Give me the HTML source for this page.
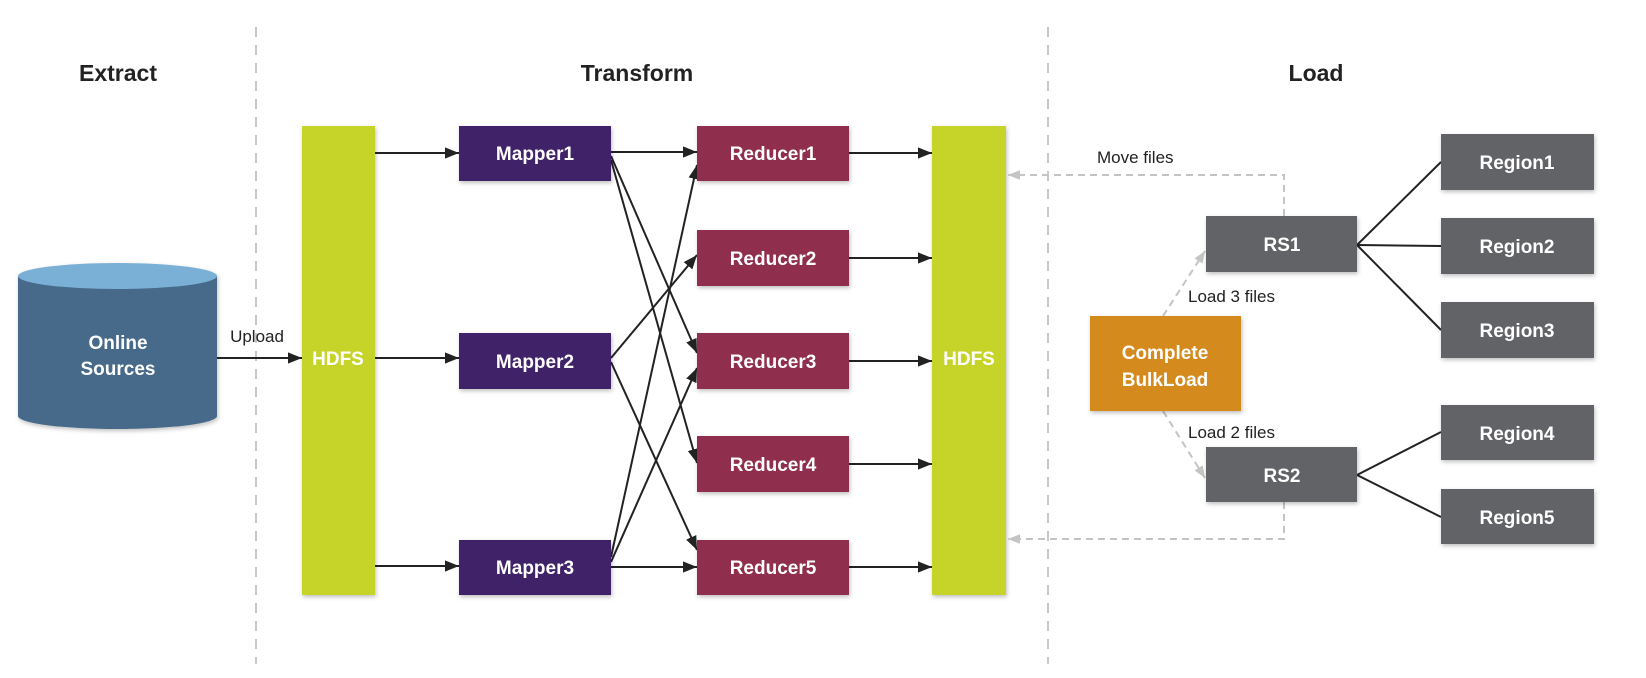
<!DOCTYPE html>
<html><head><meta charset="utf-8"><style>
html,body{margin:0;padding:0;background:#fff;}
svg{display:block;}
text{font-family:"Liberation Sans",sans-serif;font-weight:bold;}
text.n{font-weight:normal;}
</style></head><body>
<svg width="1646" height="678" viewBox="0 0 1646 678" xmlns="http://www.w3.org/2000/svg">
<defs>
<marker id="a" viewBox="0 0 10 10" refX="10" refY="5" markerWidth="14" markerHeight="14" markerUnits="userSpaceOnUse" orient="auto"><path d="M0,1 L10,5 L0,9 z" fill="#222"/></marker>
<marker id="g" viewBox="0 0 10 10" refX="10" refY="5" markerWidth="12" markerHeight="12" markerUnits="userSpaceOnUse" orient="auto"><path d="M0,1 L10,5 L0,9 z" fill="#c4c4c4"/></marker>
<filter id="s" x="-10%" y="-10%" width="130%" height="130%"><feDropShadow dx="1" dy="2" stdDeviation="2" flood-color="#000" flood-opacity="0.25"/></filter>
</defs>
<line x1="256" y1="27" x2="256" y2="664" stroke="#c8c8c8" stroke-width="2" stroke-dasharray="10,8"/>
<line x1="1048" y1="27" x2="1048" y2="664" stroke="#c8c8c8" stroke-width="2" stroke-dasharray="10,8"/>
<g font-size="23" fill="#222" text-anchor="middle">
<text x="118" y="81">Extract</text>
<text x="637" y="81">Transform</text>
<text x="1316" y="81">Load</text>
</g>
<g filter="url(#s)">
<path d="M18,276 L18,416 A99.5,13 0 0 0 217,416 L217,276 z" fill="#466a8a"/>
<ellipse cx="117.5" cy="276" rx="99.5" ry="13" fill="#7ab0d6"/>
</g>
<g font-size="19" fill="#fff" text-anchor="middle">
<text x="118" y="349">Online</text>
<text x="118" y="375">Sources</text>
</g>
<text class="n" x="257" y="342" font-size="17" fill="#222" text-anchor="middle">Upload</text>
<line x1="217" y1="358" x2="302" y2="358" stroke="#222" stroke-width="2" marker-end="url(#a)"/>
<rect x="302" y="126" width="73" height="469" fill="#c6d42a" filter="url(#s)"/>
<rect x="932" y="126" width="74" height="469" fill="#c6d42a" filter="url(#s)"/>
<g font-size="19" fill="#fff" text-anchor="middle">
<text x="338" y="365">HDFS</text>
<text x="969" y="365">HDFS</text>
</g>
<g stroke="#222" stroke-width="2" marker-end="url(#a)">
<line x1="375" y1="153" x2="459" y2="153"/>
<line x1="375" y1="358" x2="459" y2="358"/>
<line x1="375" y1="566" x2="459" y2="566"/>
<line x1="611" y1="152" x2="697" y2="152"/>
<line x1="611" y1="156" x2="697" y2="353"/>
<line x1="611" y1="160" x2="697" y2="463"/>
<line x1="611" y1="358" x2="697" y2="255"/>
<line x1="611" y1="362" x2="697" y2="550"/>
<line x1="611" y1="557" x2="697" y2="165"/>
<line x1="611" y1="562" x2="697" y2="368"/>
<line x1="611" y1="567" x2="697" y2="567"/>
<line x1="849" y1="153" x2="932" y2="153"/>
<line x1="849" y1="258" x2="932" y2="258"/>
<line x1="849" y1="361" x2="932" y2="361"/>
<line x1="849" y1="464" x2="932" y2="464"/>
<line x1="849" y1="567" x2="932" y2="567"/>
</g>
<g fill="#3f2469" filter="url(#s)">
<rect x="459" y="126" width="152" height="55"/>
<rect x="459" y="333" width="152" height="56"/>
<rect x="459" y="540" width="152" height="55"/>
</g>
<g fill="#8f2f4e" filter="url(#s)">
<rect x="697" y="126" width="152" height="55"/>
<rect x="697" y="230" width="152" height="56"/>
<rect x="697" y="333" width="152" height="56"/>
<rect x="697" y="436" width="152" height="56"/>
<rect x="697" y="540" width="152" height="55"/>
</g>
<g font-size="19" fill="#fff" text-anchor="middle">
<text x="535" y="160">Mapper1</text>
<text x="535" y="368">Mapper2</text>
<text x="535" y="574">Mapper3</text>
<text x="773" y="160">Reducer1</text>
<text x="773" y="265">Reducer2</text>
<text x="773" y="368">Reducer3</text>
<text x="773" y="471">Reducer4</text>
<text x="773" y="574">Reducer5</text>
</g>
<g stroke="#c4c4c4" stroke-width="2" stroke-dasharray="7,5" fill="none">
<polyline points="1284,216 1284,175 1008,175" marker-end="url(#g)"/>
<polyline points="1284,502 1284,539 1008,539" marker-end="url(#g)"/>
<line x1="1163" y1="316" x2="1205" y2="251" marker-end="url(#g)"/>
<line x1="1163" y1="411" x2="1205" y2="478" marker-end="url(#g)"/>
</g>
<g font-size="17" fill="#222">
<text class="n" x="1097" y="163">Move files</text>
<text class="n" x="1188" y="302">Load 3 files</text>
<text class="n" x="1188" y="438">Load 2 files</text>
</g>
<g stroke="#222" stroke-width="2">
<line x1="1357" y1="245" x2="1441" y2="162"/>
<line x1="1357" y1="245" x2="1441" y2="246"/>
<line x1="1357" y1="245" x2="1441" y2="330"/>
<line x1="1357" y1="475" x2="1441" y2="432"/>
<line x1="1357" y1="475" x2="1441" y2="517"/>
</g>
<rect x="1090" y="316" width="151" height="95" fill="#d48a1e" filter="url(#s)"/>
<g fill="#626366" filter="url(#s)">
<rect x="1206" y="216" width="151" height="56"/>
<rect x="1206" y="447" width="151" height="55"/>
<rect x="1441" y="134" width="153" height="56"/>
<rect x="1441" y="218" width="153" height="56"/>
<rect x="1441" y="302" width="153" height="56"/>
<rect x="1441" y="405" width="153" height="55"/>
<rect x="1441" y="489" width="153" height="55"/>
</g>
<g font-size="19" fill="#fff" text-anchor="middle">
<text x="1165" y="359">Complete</text>
<text x="1165" y="386">BulkLoad</text>
<text x="1282" y="251">RS1</text>
<text x="1282" y="482">RS2</text>
<text x="1517" y="169">Region1</text>
<text x="1517" y="253">Region2</text>
<text x="1517" y="337">Region3</text>
<text x="1517" y="440">Region4</text>
<text x="1517" y="524">Region5</text>
</g>
</svg>
</body></html>
